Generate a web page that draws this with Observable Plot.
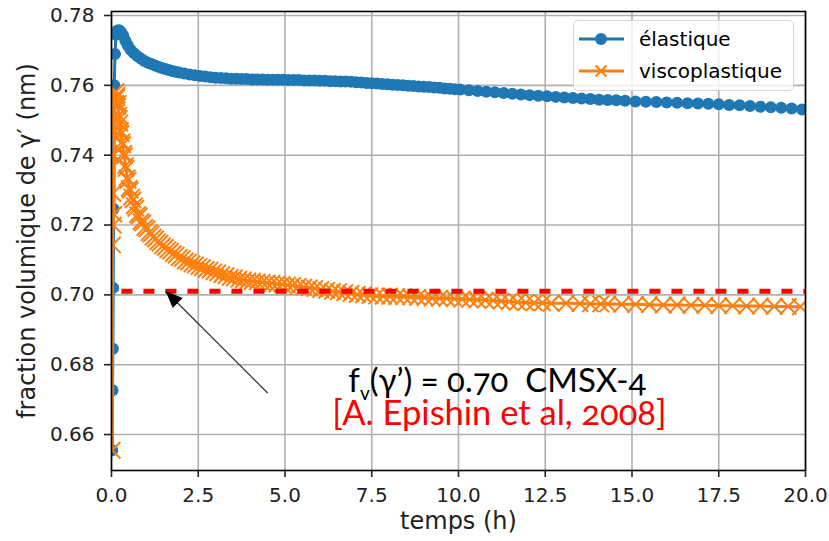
<!DOCTYPE html>
<html>
<head>
<meta charset="utf-8">
<script src="https://cdn.jsdelivr.net/npm/d3@7"></script>
<script src="https://cdn.jsdelivr.net/npm/@observablehq/plot@0.6"></script>
<style>
  body { margin: 0; background: #fff; }
  #wrap { position: relative; width: 829px; height: 541px; overflow: hidden; }
  .legend { position: absolute; left: 573px; top: 20px; width: 221px; height: 71px; box-sizing: border-box;
    border: 1.6px solid rgba(204,204,204,0.8); border-radius: 5px; background: rgba(255,255,255,0.8);
    font-family: "DejaVu Sans"; font-size: 20px; color: #000; }
  .legend .row { position: absolute; left: 0; height: 24px; width: 100%; }
  .legend .row svg { position: absolute; left: 3px; top: 2px; }
  .legend .row span { position: absolute; left: 65px; top: 0; line-height: 24px; white-space: nowrap; }
</style>
</head>
<body>
<div id="wrap"></div>
<script>
// ---- data ----
const seriesNames = ["élastique", "viscoplastique"];
const seriesColors = ["#1f77b4", "#ff7f0e"];

const elasticTime = [0.02,0.03,0.04,0.05,0.06,0.08,0.10,0.13,0.17,0.22,0.28,0.34,0.40,0.47,0.55,0.65,0.75,0.85,0.95,1.05,1.15,1.25,1.35,1.45,1.55,1.65,1.75,1.85,1.95,2.10,2.25,2.40,2.55,2.70,2.85,3.00,3.15,3.30,3.45,3.60,3.75,3.90,4.05,4.20,4.35,4.50,4.65,4.80,4.95,5.10,5.25,5.40,5.55,5.70,5.85,6.00,6.15,6.30,6.45,6.60,6.75,6.90,7.05,7.20,7.35,7.50,7.65,7.80,7.95,8.10,8.25,8.40,8.55,8.70,8.85,9.00,9.15,9.30,9.45,9.60,9.75,9.90,10.05,10.30,10.55,10.80,11.05,11.30,11.55,11.80,12.05,12.30,12.55,12.80,13.05,13.30,13.55,13.80,14.05,14.30,14.55,14.80,15.10,15.40,15.70,16.00,16.30,16.60,16.90,17.20,17.50,17.80,18.10,18.40,18.70,19.00,19.30,19.60,19.90];
const elasticValue = [0.6555,0.6727,0.6846,0.7020,0.7246,0.7600,0.7690,0.7745,0.7757,0.7758,0.7752,0.7742,0.7728,0.7714,0.7702,0.7692,0.7683,0.7676,0.7670,0.7665,0.7661,0.7657,0.7653,0.7650,0.7647,0.7644,0.7641,0.7639,0.7637,0.7634,0.7631,0.7629,0.7627,0.7625,0.7623,0.7622,0.7621,0.7620,0.7619,0.7619,0.7618,0.7618,0.7617,0.7617,0.7617,0.7616,0.7616,0.7616,0.7616,0.7615,0.7615,0.7615,0.7614,0.7614,0.7614,0.7613,0.7613,0.7612,0.7612,0.7611,0.7611,0.7610,0.7609,0.7608,0.7607,0.7606,0.7605,0.7604,0.7603,0.7602,0.7601,0.7600,0.7599,0.7598,0.7597,0.7596,0.7595,0.7594,0.7593,0.7591,0.7590,0.7589,0.7588,0.7586,0.7584,0.7582,0.7580,0.7578,0.7576,0.7574,0.7572,0.7570,0.7569,0.7567,0.7565,0.7564,0.7562,0.7561,0.7559,0.7558,0.7557,0.7556,0.7554,0.7553,0.7552,0.7551,0.7550,0.7549,0.7548,0.7547,0.7546,0.7544,0.7543,0.7541,0.7539,0.7537,0.7536,0.7534,0.7531];

const viscoTime = [0.02,0.03,0.04,0.05,0.06,0.07,0.08,0.09,0.10,0.12,0.13,0.15,0.16,0.18,0.19,0.21,0.22,0.24,0.26,0.28,0.30,0.32,0.35,0.37,0.40,0.42,0.45,0.48,0.51,0.54,0.58,0.62,0.66,0.70,0.75,0.80,0.85,0.90,0.96,1.02,1.08,1.14,1.20,1.27,1.33,1.40,1.47,1.55,1.62,1.70,1.78,1.86,1.95,2.04,2.13,2.22,2.32,2.42,2.52,2.62,2.73,2.84,2.95,3.06,3.18,3.30,3.42,3.54,3.67,3.80,3.93,4.06,4.20,4.34,4.48,4.62,4.77,4.92,5.07,5.22,5.38,5.54,5.70,5.86,6.03,6.20,6.37,6.54,6.72,6.90,7.08,7.26,7.45,7.64,7.83,8.02,8.22,8.42,8.62,8.82,9.03,9.24,9.45,9.66,9.88,10.10,10.32,10.54,10.77,11.00,11.23,11.46,11.70,11.94,12.18,12.42,12.67,13.10,13.50,13.80,14.10,14.30,14.70,15.10,15.50,15.90,16.30,16.70,17.10,17.50,17.90,18.30,18.70,19.10,19.50,19.85];
const viscoValue = [0.6555,0.7143,0.7290,0.7200,0.7400,0.7231,0.7500,0.7470,0.7560,0.7548,0.7582,0.7565,0.7572,0.7540,0.7548,0.7515,0.7505,0.7492,0.7470,0.7462,0.7438,0.7430,0.7405,0.7398,0.7370,0.7362,0.7335,0.7328,0.7305,0.7300,0.7280,0.7272,0.7255,0.7248,0.7230,0.7226,0.7210,0.7206,0.7193,0.7189,0.7178,0.7174,0.7165,0.7160,0.7152,0.7148,0.7140,0.7136,0.7129,0.7125,0.7118,0.7114,0.7107,0.7104,0.7097,0.7094,0.7089,0.7086,0.7081,0.7078,0.7073,0.7071,0.7066,0.7063,0.7058,0.7055,0.7050,0.7049,0.7045,0.7043,0.7040,0.7039,0.7037,0.7036,0.7034,0.7033,0.7031,0.7030,0.7028,0.7027,0.7024,0.7022,0.7020,0.7018,0.7015,0.7013,0.7010,0.7009,0.7006,0.7004,0.7001,0.7000,0.6998,0.6997,0.6996,0.6996,0.6995,0.6995,0.6994,0.6993,0.6992,0.6991,0.6990,0.6990,0.6989,0.6988,0.6987,0.6986,0.6985,0.6984,0.6982,0.6981,0.6979,0.6978,0.6977,0.6977,0.6976,0.6976,0.6975,0.6974,0.6974,0.6974,0.6973,0.6973,0.6972,0.6971,0.6971,0.6970,0.6970,0.6969,0.6969,0.6968,0.6968,0.6967,0.6967,0.6966];

const xTicks = [0, 2.5, 5, 7.5, 10, 12.5, 15, 17.5, 20];
const yTicks = [0.66, 0.68, 0.70, 0.72, 0.74, 0.76, 0.78];
const xLabel = "temps (h)";
const yLabel = "fraction volumique de γ′ (nm)";

// reference level (dashed red) and annotation
const refLevel = [{v: 0.701, t0: 0.3, t1: 20}];
const arrowData = [{t0: 4.50, v0: 0.6719, t1: 1.56, v1: 0.7011}];
const noteMain = [{t: 11.12, v: 0.6751, text: "fv(γ’) = 0.70\u00a0 CMSX-4"}];
const noteMainParts = ["f", "v", "(γ’) = 0.70\u00a0 CMSX-4"];
const noteRef = [{t: 11.18, v: 0.6659, text: "[A. Epishin et al, 2008]"}];

// ---- build tables ----
const elastic = elasticTime.map((t, i) => ({t, v: elasticValue[i]}));
const visco = viscoTime.map((t, i) => ({t, v: viscoValue[i]}));

const arrowHead = (color, context) => {
  const m = d3.create("svg:marker")
    .attr("viewBox", "-18 -8 19 16")
    .attr("markerWidth", 19)
    .attr("markerHeight", 16)
    .attr("markerUnits", "userSpaceOnUse")
    .attr("orient", "auto")
    .attr("refX", 0)
    .attr("refY", 0);
  m.append("path").attr("d", "M0,0L-17,-7L-17,7Z").attr("fill", "black").attr("stroke", "none");
  return m.node();
};

const gridStyle = {stroke: "#b0b0b0", strokeOpacity: 1, strokeWidth: 1.6};

const plot = Plot.plot({
  width: 829,
  height: 541,
  marginLeft: 111,
  marginRight: 24,
  marginTop: 11,
  marginBottom: 71,
  x: {domain: [0, 20]},
  y: {domain: [0.6497, 0.78115]},
  style: {fontFamily: "DejaVu Sans", fontSize: "20px", color: "#222", background: "white", overflow: "visible"},
  marks: [
    Plot.gridX(xTicks, gridStyle),
    Plot.gridY(yTicks, gridStyle),
    Plot.line(elastic, {x: "t", y: "v", stroke: seriesColors[0], strokeWidth: 3, clip: true}),
    Plot.dot(elastic, {x: "t", y: "v", r: 6, fill: seriesColors[0], clip: true}),
    Plot.line(visco, {x: "t", y: "v", stroke: seriesColors[1], strokeWidth: 3, clip: true}),
    Plot.dot(visco, {x: "t", y: "v", r: 7.5, symbol: "times", stroke: seriesColors[1], strokeWidth: 2, clip: true}),
    Plot.ruleY(refLevel, {y: "v", x1: "t0", x2: "t1", stroke: "#ff0000", strokeWidth: 5, strokeDasharray: "11,11"}),
    Plot.link(arrowData, {x1: "t0", y1: "v0", x2: "t1", y2: "v1", stroke: "#333", strokeWidth: 1.2, markerEnd: arrowHead}),
    Plot.text(noteMain, {x: "t", y: "v", text: "text", fill: "black", fontSize: 33, fontFamily: "Lato", ariaDescription: "note-main"}),
    Plot.text(noteRef, {x: "t", y: "v", text: "text", fill: "#ff0000", fontSize: 34.5, fontFamily: "Lato", ariaDescription: "note-ref"}),
    Plot.frame({stroke: "black", strokeWidth: 1.6}),
    Plot.axisX(xTicks, {tickFormat: d => d.toFixed(1), tickSize: 7, tickPadding: 10, strokeWidth: 1.6, label: null}),
    Plot.axisY(yTicks, {tickFormat: d => d.toFixed(2), tickSize: 7, tickPadding: 10, strokeWidth: 1.6, label: null}),
    Plot.text([xLabel], {frameAnchor: "bottom", dy: 58, fontSize: 24, fill: "#222"}),
    Plot.text([yLabel], {frameAnchor: "left", textAnchor: "middle", rotate: -90, dx: -84, fontSize: 24, fill: "#222"})
  ]
});

// subscript for f_v
const mainText = plot.querySelector('g[aria-description="note-main"] text');
if (mainText) {
  mainText.textContent = "";
  const ns = "http://www.w3.org/2000/svg";
  const a = document.createElementNS(ns, "tspan"); a.textContent = noteMainParts[0];
  const b = document.createElementNS(ns, "tspan"); b.textContent = noteMainParts[1];
  b.setAttribute("font-size", "19"); b.setAttribute("dy", "8");
  const c = document.createElementNS(ns, "tspan"); c.textContent = noteMainParts[2];
  c.setAttribute("dy", "-8");
  mainText.append(a, b, c);
}
plot.querySelectorAll('g[aria-description="note-main"] text, g[aria-description="note-ref"] text').forEach(t => {
  t.style.fontVariantNumeric = "oldstyle-nums";
});

const wrap = document.getElementById("wrap");
wrap.appendChild(plot);

// legend inside the axes (top right)
const legend = document.createElement("div");
legend.className = "legend";
const rowsTop = [6, 38];
seriesNames.forEach((name, i) => {
  const row = document.createElement("div");
  row.className = "row";
  row.style.top = rowsTop[i] + "px";
  const c = seriesColors[i];
  const marker = i === 0
    ? `<circle cx="24" cy="10" r="6" fill="${c}"/>`
    : `<path d="M18.5,4.5L29.5,15.5M18.5,15.5L29.5,4.5" stroke="${c}" stroke-width="2"/>`;
  row.innerHTML = `<svg width="48" height="20"><line x1="2" x2="47" y1="10" y2="10" stroke="${c}" stroke-width="3"/>${marker}</svg><span>${name}</span>`;
  legend.appendChild(row);
});
wrap.appendChild(legend);
</script>
</body>
</html>
